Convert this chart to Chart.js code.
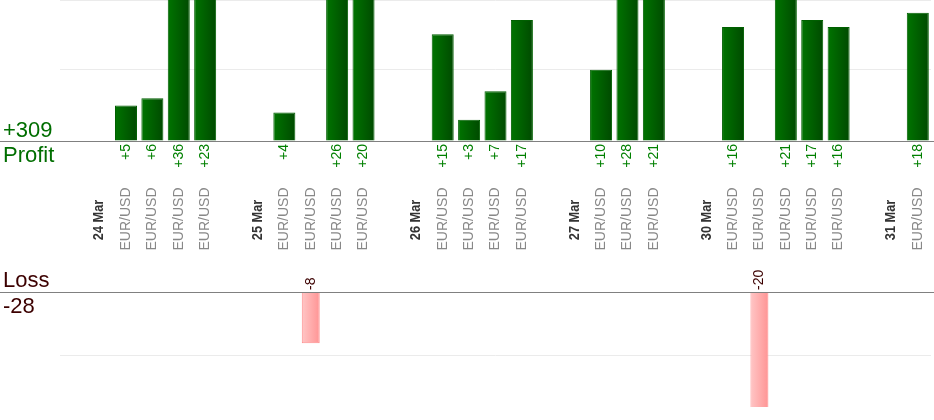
<!DOCTYPE html>
<html lang="en">
<head>
    <meta charset="UTF-8">
    <script src="https://cdn.jsdelivr.net/npm/chart.js"></script>
    <style>
        body { margin: 0; background: #fff; }
        #wrap { width: 934px; height: 420px; position: relative; }
    </style>
</head>
<body>
    <div id="wrap"><canvas id="chart"></canvas></div>

    <script>
        const E = 'EUR/USD';
        const categories = ['', '24 Mar', E, E, E, E, '', '25 Mar', E, E, E, E, '', '26 Mar', E, E, E, E,
            '', '27 Mar', E, E, E, '', '30 Mar', E, E, E, E, E, '', '31 Mar', E];
        const profit = [null, null, 5, 6, 36, 23, null, null, 4, null, 26, 20, null, null, 15, 3, 7, 17,
            null, null, 10, 28, 21, null, null, 16, null, 21, 17, 16, null, null, 18];
        const loss = [null, null, null, null, null, null, null, null, null, -8, null, null, null, null, null, null, null, null,
            null, null, null, null, null, null, null, null, -20, null, null, null, null, null, null];
        const profitTicks = [0, 10];
        const lossTicks = [0, -10];

        const FONT = 'Liberation Sans, Arial, sans-serif';
        const dates = categories.map(c => /Mar/.test(c));

        function barGradient(ctx, pct, c1, c2) {
            const chart = ctx.chart;
            const x = chart.scales.x;
            if (!x || x.width === undefined) return c1;
            const cx = x.getPixelForValue(ctx.dataIndex);
            const half = x.width / categories.length * pct / 2;
            const g = chart.ctx.createLinearGradient(cx - half, 0, cx + half, 0);
            g.addColorStop(0, c1);
            g.addColorStop(1, c2);
            return g;
        }

        const labelsPlugin = {
            id: 'labels',
            afterDatasetsDraw(chart) {
                const { ctx, scales: { x, y, yLoss } } = chart;
                const base = y.getPixelForValue(0);
                const lossBase = yLoss.getPixelForValue(0);
                ctx.save();
                ctx.strokeStyle = '#808080';
                ctx.lineWidth = 1;
                [base, lossBase].forEach(py => {
                    ctx.beginPath();
                    ctx.moveTo(0, Math.round(py) + 0.5);
                    ctx.lineTo(chart.width, Math.round(py) + 0.5);
                    ctx.stroke();
                });

                // totals on the left
                const totP = profit.reduce((s, v) => s + (v || 0), 0);
                const totL = loss.reduce((s, v) => s + (v || 0), 0);
                ctx.font = '22px ' + FONT;
                ctx.textAlign = 'left';
                ctx.textBaseline = 'alphabetic';
                ctx.fillStyle = '#006e00';
                ctx.fillText('+' + totP, 3, base - 4);
                ctx.fillText('Profit', 3, base + 21);
                ctx.fillStyle = '#3c0000';
                ctx.fillText('Loss', 3, lossBase - 5);
                ctx.fillText(String(totL), 3, lossBase + 21);

                categories.forEach((c, i) => {
                    const px = x.getPixelForValue(i);
                    ctx.save();
                    ctx.translate(px, 0);
                    ctx.rotate(-Math.PI / 2);
                    ctx.textBaseline = 'middle';
                    if (profit[i] != null) {
                        ctx.font = '14px ' + FONT;
                        ctx.fillStyle = '#008000';
                        ctx.textAlign = 'right';
                        ctx.fillText('+' + profit[i], -(base + 3), 0);
                    }
                    if (loss[i] != null) {
                        ctx.font = '14px ' + FONT;
                        ctx.fillStyle = '#3c0000';
                        ctx.textAlign = 'left';
                        ctx.fillText(String(loss[i]), -(lossBase - 2), 0);
                    }
                    if (c) {
                        ctx.textAlign = 'center';
                        if (dates[i]) {
                            ctx.font = 'bold 14px ' + FONT;
                            ctx.fillStyle = '#333333';
                            ctx.translate(-(base + 79), 0);
                            ctx.scale(0.91, 1);
                            ctx.fillText(c, 0, 0);
                        } else {
                            ctx.font = '14px ' + FONT;
                            ctx.fillStyle = '#888888';
                            ctx.fillText(c, -(base + 78), 0);
                        }
                    }
                    ctx.restore();
                });
                ctx.restore();
            }
        };

        const ctx = document.getElementById('chart').getContext('2d');
        const chart = new Chart(ctx, {
            type: 'bar',
            data: {
                labels: categories,
                datasets: [{
                    label: 'Profit',
                    data: profit,
                    yAxisID: 'y',
                    grouped: false,
                    barPercentage: 0.834,
                    categoryPercentage: 1,
                    backgroundColor: c => barGradient(c, 0.834, '#007400', '#004a00'),
                    borderColor: '#005f00',
                    borderWidth: 1
                }, {
                    label: 'Loss',
                    data: loss,
                    yAxisID: 'yLoss',
                    grouped: false,
                    barPercentage: 0.68,
                    categoryPercentage: 1,
                    backgroundColor: c => barGradient(c, 0.68, '#ffc6c6', '#ff9494'),
                    borderColor: '#ff8c8c',
                    borderWidth: 1
                }]
            },
            options: {
                responsive: true,
                maintainAspectRatio: false,
                animation: false,
                layout: { padding: { left: 60, right: 3, top: 0, bottom: 13 } },
                plugins: { legend: { display: false }, tooltip: { enabled: false } },
                scales: {
                    x: { display: false, offset: true },
                    y: {
                        position: 'right', stack: 'v', stackWeight: 141,
                        min: 0, max: 19.8,
                        ticks: { display: false, stepSize: 10 },
                        border: { display: false },
                        grid: {
                            drawTicks: false,
                            color: c => profitTicks.includes(c.tick.value) && c.tick.value !== 0 ? '#ebebeb'
                                : (c.tick.value > 19 ? '#ebebeb' : 'rgba(0,0,0,0)')
                        }
                    },
                    yMid: {
                        position: 'right', stack: 'v', stackWeight: 151,
                        min: 0, max: 1,
                        ticks: { display: false },
                        border: { display: false },
                        grid: { display: false, drawTicks: false }
                    },
                    yLoss: {
                        position: 'right', stack: 'v', stackWeight: 115,
                        min: -17.97, max: 0,
                        ticks: { display: false, stepSize: 10 },
                        border: { display: false },
                        grid: {
                            drawTicks: false,
                            color: c => lossTicks.includes(c.tick.value) && c.tick.value !== 0 ? '#ebebeb' : 'rgba(0,0,0,0)'
                        }
                    }
                }
            },
            plugins: [labelsPlugin]
        });
    </script>
</body>
</html>
